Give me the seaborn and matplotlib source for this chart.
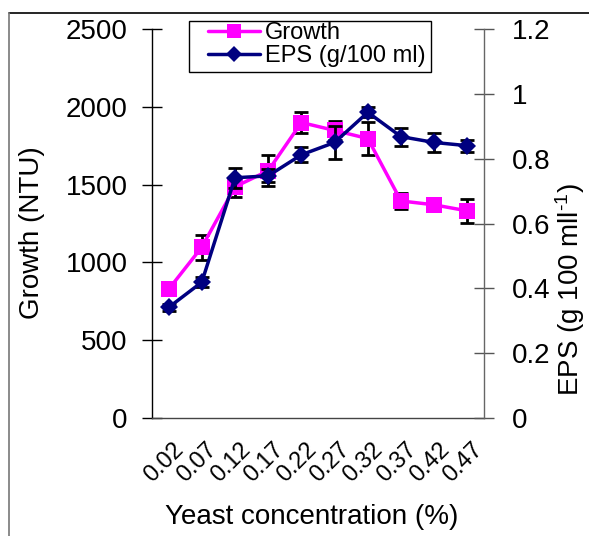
import matplotlib
matplotlib.use("Agg")
import matplotlib.pyplot as plt
import matplotlib.transforms as mtransforms
import seaborn as sns
import pandas as pd
import numpy as np
from matplotlib.lines import Line2D
from matplotlib.patches import Rectangle

# ---- data ----
concentrations = ["0.02", "0.07", "0.12", "0.17", "0.22", "0.27", "0.32", "0.37", "0.42", "0.47"]
growth = [827, 1098, 1486, 1589, 1899, 1848, 1796, 1395, 1370, 1331]
growth_err = [0, 80, 65, 100, 65, 60, 105, 50, 25, 75]
eps = [0.341, 0.419, 0.741, 0.747, 0.812, 0.850, 0.943, 0.868, 0.850, 0.840]
eps_err = [0.01, 0.015, 0.03, 0.02, 0.023, 0.05, 0.015, 0.028, 0.028, 0.018]
left_ticks = [0, 500, 1000, 1500, 2000, 2500]
right_ticks = [0, 0.2, 0.4, 0.6, 0.8, 1.0, 1.2]
right_tick_labels = ["0", "0.2", "0.4", "0.6", "0.8", "1", "1.2"]

sns.set_style("white")
plt.rcParams['font.family'] = ['Liberation Sans', 'DejaVu Sans']
plt.rcParams['text.color'] = 'black'
plt.rcParams['axes.labelcolor'] = 'black'
plt.rcParams['xtick.color'] = 'black'
plt.rcParams['ytick.color'] = 'black'
plt.rcParams['mathtext.fontset'] = 'custom'
plt.rcParams['mathtext.rm'] = 'Liberation Sans'
plt.rcParams['mathtext.it'] = 'Liberation Sans:italic'
plt.rcParams['mathtext.bf'] = 'Liberation Sans:bold'

df = pd.DataFrame({"pos": np.arange(len(concentrations)), "growth": growth,
                   "growth_err": growth_err, "eps": eps, "eps_err": eps_err})

PINK = "#FF00FF"
NAVY = "#000080"

fig = plt.figure(figsize=(5.89, 5.36), dpi=100)
ax = fig.add_axes([152/589, 1-418/536, (484-152)/589, (418-29)/536])
ax2 = ax.twinx()

# growth
m = df["growth_err"] > 0
ax.errorbar(df["pos"][m], df["growth"][m], yerr=df["growth_err"][m], fmt="none",
            ecolor="black", elinewidth=2, capsize=5, capthick=2, zorder=1)
sns.lineplot(data=df, x="pos", y="growth", ax=ax, color=PINK, marker="s",
             markersize=11, markeredgewidth=0, linewidth=2.5, zorder=2, legend=False)

# eps
ax2.errorbar(df["pos"], df["eps"], yerr=df["eps_err"], fmt="none",
             ecolor="black", elinewidth=2, capsize=5, capthick=2, zorder=1)
sns.lineplot(data=df, x="pos", y="eps", ax=ax2, color=NAVY, marker="D",
             markersize=9, markeredgewidth=0, linewidth=2.5, zorder=2, legend=False)

n = len(concentrations)
ax.set_xlim(-0.5, n - 0.5)
ax.set_ylim(0, 2500)
ax2.set_ylim(0, 1.2)

ax.set_xticks(np.arange(-0.5, n, 1.0))
ax.set_xticklabels([])
ax.set_xticks(np.arange(n), minor=True)
ax.set_xticklabels(concentrations, minor=True, rotation=45, ha="right",
                   rotation_mode="anchor", fontsize=17)
ax.tick_params(axis="x", which="minor", length=0, pad=15)
ax.tick_params(axis="x", which="major", direction="inout", length=8, width=1, color="#333333")
offset = mtransforms.ScaledTranslation(3/72, 0, fig.dpi_scale_trans)
for lbl in ax.get_xticklabels(minor=True):
    lbl.set_transform(lbl.get_transform() + offset)

ax.set_yticks(left_ticks)
ax.set_yticklabels([str(t) for t in left_ticks], fontsize=20)
ax.tick_params(axis="y", direction="inout", length=14, width=1, pad=10.5, color="black", left=True)

ax2.set_yticks(right_ticks)
ax2.set_yticklabels(right_tick_labels, fontsize=20)
ax2.tick_params(axis="y", direction="inout", length=14, width=1, pad=13, color="#555555", right=True)

for a in (ax, ax2):
    a.spines["top"].set_visible(False)
ax.spines["right"].set_visible(False)
ax2.spines["left"].set_visible(False)
ax2.spines["bottom"].set_visible(False)
ax.spines["left"].set_color("black")
ax.spines["bottom"].set_color("#444444")
ax2.spines["right"].set_color("#666666")
for s in ("left", "bottom"):
    ax.spines[s].set_linewidth(1)
ax2.spines["right"].set_linewidth(1)

ax.set_xlabel("Yeast concentration (%)", fontsize=20)
ax.xaxis.set_label_coords((312-152)/332, -(517-418)/389)
ax.xaxis.label.set_va("center")
ax.set_ylabel("Growth (NTU)", fontsize=20)
ax.yaxis.set_label_coords((32-152)/332, 1-(233-29)/389)
ax.yaxis.label.set_va("center")
ax2.set_ylabel(r"EPS (g 100 mll$^{\text{-1}}$)", fontsize=20)
ax2.yaxis.set_label_coords((570-152)/332, 1-(290-29)/389)
ax2.yaxis.label.set_va("center")
ax2.yaxis.label.set_rotation(90)

handles = [Line2D([], [], color=PINK, marker="s", markersize=10, markeredgewidth=0, linewidth=2.5),
           Line2D([], [], color=NAVY, marker="D", markersize=8, markeredgewidth=0, linewidth=2.5)]
leg = fig.legend(handles, ["Growth", "EPS (g/100 ml)"], loc="upper left",
                 bbox_to_anchor=(208/589, 1-22/536), fontsize=17, frameon=False,
                 borderpad=0, handlelength=2.2, handletextpad=0.2, labelspacing=0.05,
                 borderaxespad=0)
fig.add_artist(Rectangle((189/589, 1-72/536), (431-189)/589, (72-21)/536,
                         transform=fig.transFigure, fill=False, edgecolor="black", linewidth=1))

# chart-area frame (partial border)
fig.add_artist(Line2D([9/589, 1], [1-13/536, 1-13/536], color="black", linewidth=1.2,
                      transform=fig.transFigure))
fig.add_artist(Line2D([9/589, 9/589], [0, 1-13/536], color="#777777", linewidth=1.2,
                      transform=fig.transFigure))

fig.savefig("out.png", dpi=100)
